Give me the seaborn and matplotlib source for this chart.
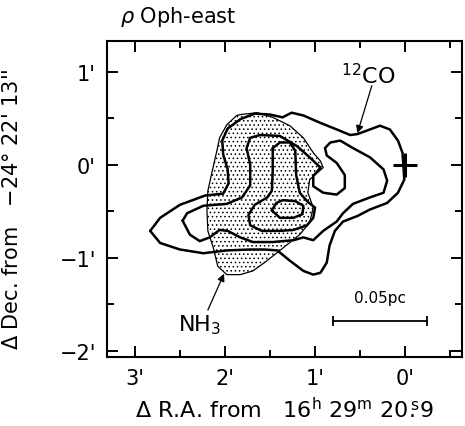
"""rho Oph-east: 12CO contours over the stippled NH3 region."""

import matplotlib

matplotlib.use("Agg")
import matplotlib.pyplot as plt
import pandas as pd
import seaborn as sns

# --------------------------------------------------------------------------- #
# Data (offsets in arcmin from 16h29m20.9s, -24d22'13")
# --------------------------------------------------------------------------- #

co_outer_x = [2.83, 2.72, 2.50, 2.22, 2.02, 1.96, 1.97, 2.02, 2.03, 1.97, 1.83, 1.67,
              1.50, 1.36, 1.26, 1.13, 0.94, 0.76, 0.61, 0.53, 0.39, 0.28, 0.17, 0.08,
              0.03, 0.02, 0.01, 0.08, 0.20, 0.39, 0.53, 0.69, 0.78, 0.84, 0.87, 0.94,
              1.02, 1.13, 1.28, 1.42, 1.56, 1.72, 1.98, 2.24, 2.50, 2.72, 2.83]
co_outer_y = [-0.71, -0.57, -0.43, -0.33, -0.31, -0.20, -0.05, 0.11, 0.26, 0.39, 0.49, 0.55,
              0.54, 0.51, 0.56, 0.53, 0.45, 0.38, 0.32, 0.33, 0.38, 0.42, 0.38, 0.26,
              0.13, 0.00, -0.16, -0.30, -0.41, -0.48, -0.55, -0.61, -0.71, -0.87, -1.05, -1.16,
              -1.18, -1.14, -1.03, -0.92, -0.91, -0.91, -0.92, -0.95, -0.91, -0.84, -0.71]

co_mid_x = [2.47, 2.42, 2.24, 1.98, 1.81, 1.72, 1.72, 1.76, 1.72, 1.61, 1.39, 1.20,
            1.06, 0.94, 1.02, 1.02, 0.91, 0.76, 0.67, 0.67, 0.76, 0.87, 0.89, 0.83,
            0.72, 0.58, 0.39, 0.24, 0.20, 0.24, 0.39, 0.58, 0.69, 0.76, 0.91, 1.02,
            1.13, 1.24, 1.47, 1.69, 1.83, 1.97, 2.06, 2.17, 2.28, 2.39, 2.47]
co_mid_y = [-0.60, -0.52, -0.44, -0.42, -0.35, -0.22, 0.00, 0.18, 0.29, 0.32, 0.31, 0.20,
            0.08, -0.03, -0.12, -0.23, -0.30, -0.32, -0.25, -0.11, 0.02, 0.10, 0.18, 0.24,
            0.26, 0.18, 0.08, -0.05, -0.17, -0.30, -0.35, -0.42, -0.52, -0.61, -0.71, -0.81,
            -0.78, -0.81, -0.83, -0.83, -0.78, -0.71, -0.70, -0.78, -0.82, -0.75, -0.60]

co_inner_x = [1.47, 1.39, 1.28, 1.22, 1.21, 1.17, 1.08, 1.00, 1.02, 1.09, 1.24, 1.39,
              1.59, 1.72, 1.74, 1.67, 1.53, 1.48, 1.47, 1.47]
co_inner_y = [0.18, 0.24, 0.24, 0.15, -0.11, -0.30, -0.40, -0.46, -0.57, -0.65, -0.70, -0.71,
              -0.71, -0.65, -0.54, -0.43, -0.35, -0.28, -0.06, 0.18]

co_peak_x = [1.48, 1.43, 1.36, 1.22, 1.13, 1.14, 1.24, 1.39, 1.48]
co_peak_y = [-0.49, -0.41, -0.38, -0.39, -0.44, -0.53, -0.57, -0.57, -0.49]

nh3_x = [1.83, 1.64, 1.47, 1.28, 1.13, 1.02, 0.94, 0.91, 0.98, 1.06, 1.08, 1.02,
         1.06, 1.17, 1.39, 1.56, 1.69, 1.83, 1.98, 2.08, 2.13, 2.19, 2.20, 2.19,
         2.14, 2.09, 2.06, 1.98, 1.87, 1.83]
nh3_y = [0.54, 0.56, 0.51, 0.42, 0.29, 0.13, 0.04, -0.03, -0.09, -0.16, -0.30, -0.46,
         -0.62, -0.75, -0.92, -1.05, -1.14, -1.18, -1.18, -1.09, -0.89, -0.71, -0.49, -0.28,
         -0.06, 0.15, 0.29, 0.43, 0.53, 0.54]

source_pos = (0.0, 0.0)  # map centre, marked with a cross
scale_bar_label = "0.05pc"
scale_bar_x = [0.80, -0.24]
scale_bar_y = -1.68

x_ticks = [3, 2, 1, 0]
x_ticklabels = ["3'", "2'", "1'", "0'"]
y_ticks = [1, 0, -1, -2]
y_ticklabels = ["1'", "0'", "\u22121'", "\u22122'"]

# --------------------------------------------------------------------------- #
# Plot
# --------------------------------------------------------------------------- #

sns.set_theme(style="ticks")
plt.rcParams["font.family"] = ["DejaVu Sans"]
plt.rcParams["text.color"] = "black"
plt.rcParams["axes.labelcolor"] = "black"
plt.rcParams["hatch.linewidth"] = 0.6
plt.rcParams["hatch.color"] = "#333333"

fig = plt.figure(figsize=(4.65, 4.27), dpi=100)
ax = fig.add_axes([0.230, 0.1616, 0.7634, 0.74])

# NH3 region: stippled, thin outline
ax.fill(nh3_x, nh3_y, facecolor="white", edgecolor="black", hatch="....", lw=0.9, zorder=1)

contours = [
    (co_outer_x, co_outer_y),
    (co_mid_x, co_mid_y),
    (co_inner_x, co_inner_y),
    (co_peak_x, co_peak_y),
]
for cx, cy in contours:
    df = pd.DataFrame({"x": cx, "y": cy})
    sns.lineplot(data=df, x="x", y="y", sort=False, estimator=None, color="black",
                 lw=1.8, ax=ax, zorder=3, solid_joinstyle="round")

ax.plot(*source_pos, marker="+", ms=17, mew=2.2, color="black", zorder=4)

# scale bar
ax.plot(scale_bar_x, [scale_bar_y] * 2, color="black", lw=1.3,
        marker="|", ms=7, mew=1.3)
ax.text(sum(scale_bar_x) / 2, scale_bar_y + 0.17, scale_bar_label,
        ha="center", va="bottom", fontsize=11)

# labels with arrows
arrow = dict(arrowstyle="-|>", lw=0.9, color="black", mutation_scale=11, shrinkA=0, shrinkB=0)
ax.text(0.41, 0.97, "$^{12}$CO", ha="center", va="center", fontsize=16)
ax.annotate("", xy=(0.53, 0.34), xytext=(0.37, 0.85), arrowprops=arrow)
ax.text(2.28, -1.71, "NH$_3$", ha="center", va="center", fontsize=16)
ax.annotate("", xy=(2.01, -1.17), xytext=(2.19, -1.56), arrowprops=arrow)

ax.set_xlim(3.31, -0.63)
ax.set_ylim(-2.065, 1.33)
ax.set_xticks(x_ticks, x_ticklabels)
ax.set_yticks(y_ticks, y_ticklabels)
ax.set_xticks([2.5, 1.5, 0.5, -0.5], minor=True)
ax.set_yticks([0.5, -0.5, -1.5], minor=True)
ax.tick_params(which="both", direction="in", top=True, right=True, width=1.4,
               labelsize=15, colors="black", pad=8)
ax.tick_params(which="major", length=8)
ax.tick_params(which="minor", length=5)
for s in ax.spines.values():
    s.set_linewidth(1.5)
    s.set_color("black")

ax.set_xlabel("$\\Delta$ R.A. from   16$^{\\rm h}$ 29$^{\\rm m}$ 20$\\overset{\\rm s}{.}$9",
              fontsize=16, labelpad=6)
ax.set_ylabel("$\\Delta$ Dec. from   \u221224\u00b0 22' 13''", fontsize=15)
ax.yaxis.set_label_coords(-0.24, 0.47)
fig.text(0.258, 0.96, "$\\rho$ Oph-east", fontsize=15, ha="left", va="center")

fig.savefig("out.png", dpi=100)
plt.close(fig)
